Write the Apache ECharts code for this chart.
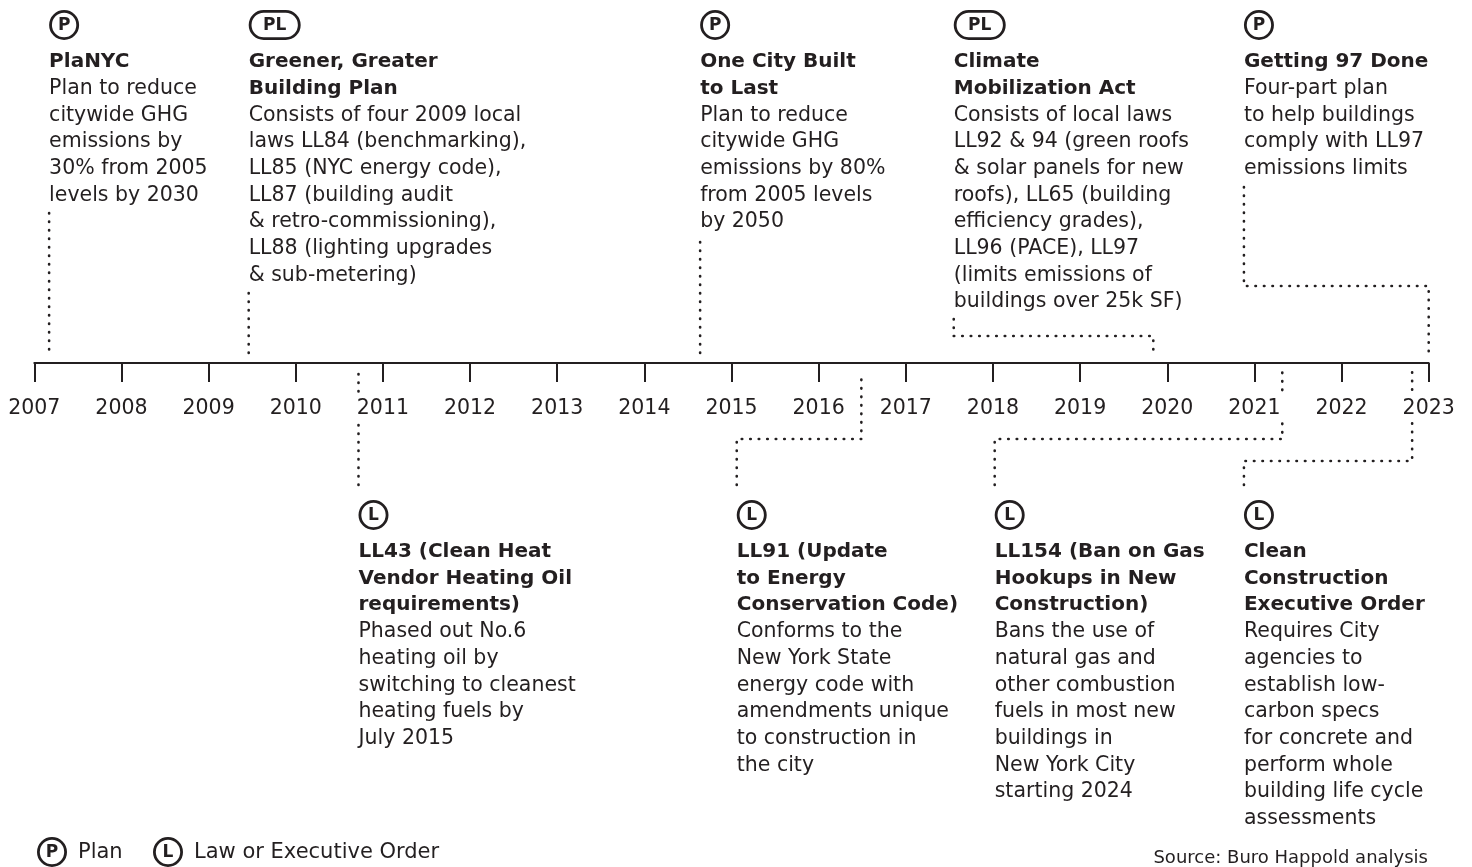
<!DOCTYPE html>
<html>
<head>
<meta charset="utf-8">
<script src="https://cdn.jsdelivr.net/npm/echarts@6/dist/echarts.min.js"></script>
<style>
html, body { margin: 0; background: #fff; }
#timeline { width: 1472px; height: 867px; }
</style>
</head>
<body>
<div id="timeline"></div>
<script>
// ---- data ----
const yearMin = 2007;
const yearMax = 2023;

const eventYears = [2007.17, 2009.46, 2014.64, 2019.84, 2023.0, 2010.72, 2016.49, 2021.32, 2022.81];
const eventTypes = ['P', 'PL', 'P', 'PL', 'P', 'L', 'L', 'L', 'L'];
const eventSides = ['above', 'above', 'above', 'above', 'above', 'below', 'below', 'below', 'below'];
const eventTitles = [
  ['PlaNYC'],
  ['Greener, Greater', 'Building Plan'],
  ['One City Built', 'to Last'],
  ['Climate', 'Mobilization Act'],
  ['Getting 97 Done'],
  ['LL43 (Clean Heat', 'Vendor Heating Oil', 'requirements)'],
  ['LL91 (Update', 'to Energy', 'Conservation Code)'],
  ['LL154 (Ban on Gas', 'Hookups in New', 'Construction)'],
  ['Clean', 'Construction', 'Executive Order']
];
const eventBodies = [
  ['Plan to reduce', 'citywide GHG', 'emissions by', '30% from 2005', 'levels by 2030'],
  ['Consists of four 2009 local', 'laws LL84 (benchmarking),', 'LL85 (NYC energy code),', 'LL87 (building audit',
   '& retro-commissioning),', 'LL88 (lighting upgrades', '& sub-metering)'],
  ['Plan to reduce', 'citywide GHG', 'emissions by 80%', 'from 2005 levels', 'by 2050'],
  ['Consists of local laws', 'LL92 & 94 (green roofs', '& solar panels for new', 'roofs), LL65 (building',
   'efficiency grades),', 'LL96 (PACE), LL97', '(limits emissions of', 'buildings over 25k SF)'],
  ['Four-part plan', 'to help buildings', 'comply with LL97', 'emissions limits'],
  ['Phased out No.6', 'heating oil by', 'switching to cleanest', 'heating fuels by', 'July 2015'],
  ['Conforms to the', 'New York State', 'energy code with', 'amendments unique', 'to construction in', 'the city'],
  ['Bans the use of', 'natural gas and', 'other combustion', 'fuels in most new', 'buildings in',
   'New York City', 'starting 2024'],
  ['Requires City', 'agencies to', 'establish low-', 'carbon specs', 'for concrete and', 'perform whole',
   'building life cycle', 'assessments']
];
const legendKeys = ['P', 'L'];
const legendNames = ['Plan', 'Law or Executive Order'];
const sourceNote = 'Source: Buro Happold analysis';

// ---- layout (where each text block sits and how its dotted leader is routed) ----
const labelYears = [2007.17, 2009.46, 2014.64, 2017.55, 2020.88, 2010.72, 2015.06, 2018.02, 2020.88];
// [end at text, elbow, end at axis], px offset from the timeline (negative = above)
const leaderRows = [
  [-150, null, -6], [-70, null, -6], [-121, null, -6], [-44, -27, -6], [-176, -77, -7],
  [122, null, 9], [122, 76, 9], [122, 76, 9], [122, 98, 9]
];

const ink = '#231f20';
const font = '"DejaVu Sans"';
const lineH = 26.67;
const badgeY = { above: -338, below: 152 };

var chartDom = document.getElementById('timeline');
var myChart = echarts.init(chartDom);

const leaders = eventYears.map(function (ev, i) {
  const r = leaderRows[i];
  const lab = labelYears[i];
  const coords = r[1] === null
    ? [[ev, r[0]], [ev, r[2]]]
    : [[lab, r[0]], [lab, r[1]], [ev, r[1]], [ev, r[2]]];
  return { coords: coords };
});

function badge(type, x, y) {
  const w = type.length > 1 ? 52 : 30;
  const shape = type.length > 1
    ? { type: 'rect', shape: { x: x + 1.4, y: y - 13.6, width: w - 2.8, height: 27.2, r: 13.6 } }
    : { type: 'circle', shape: { cx: x + w / 2, cy: y, r: 13.6 } };
  shape.style = { fill: 'none', stroke: ink, lineWidth: 2.8 };
  return [shape, {
    type: 'text',
    style: {
      x: x + w / 2, y: y + 1, text: type, fill: ink,
      font: 'bold 17px ' + font, align: 'center', verticalAlign: 'middle'
    }
  }];
}

function renderBlock(params, api) {
  const i = api.value(2);
  const pt = api.coord([api.value(0), api.value(1)]);
  const x = pt[0], y = pt[1];
  const top = y + 23.5;
  const children = badge(eventTypes[i], x, y).concat([
    {
      type: 'text',
      style: {
        x: x, y: top, text: eventTitles[i].join('\n'), fill: ink,
        font: 'bold 20px ' + font, lineHeight: lineH, verticalAlign: 'top'
      }
    },
    {
      type: 'text',
      style: {
        x: x, y: top + eventTitles[i].length * lineH, text: eventBodies[i].join('\n'), fill: ink,
        font: '20.5px ' + font, lineHeight: lineH, verticalAlign: 'top'
      }
    }
  ]);
  return { type: 'group', children: children };
}

const legendGraphics = [];
const legendX = [37, 153];
legendKeys.forEach(function (k, i) {
  const x = legendX[i], y = 852;
  legendGraphics.push({
    type: 'circle', shape: { cx: x + 15, cy: y, r: 13.6 },
    style: { fill: 'none', stroke: ink, lineWidth: 2.8 }
  });
  legendGraphics.push({
    type: 'text', x: x + 15, y: y + 1,
    style: { text: k, fill: ink, font: 'bold 17px ' + font, align: 'center', verticalAlign: 'middle' }
  });
  legendGraphics.push({
    type: 'text', x: x + 41, y: y + 1,
    style: { text: legendNames[i], fill: ink, font: '21px ' + font, verticalAlign: 'middle' }
  });
});
legendGraphics.push({
  type: 'text', x: 1428, y: 858,
  style: { text: sourceNote, fill: ink, font: '18px ' + font, align: 'right', verticalAlign: 'middle' }
});

var option = {
  animation: false,
  backgroundColor: '#fff',
  grid: { left: 34.3, right: 43.3, top: 0, height: 363, outerBoundsMode: 'none', containLabel: false },
  xAxis: {
    type: 'value',
    min: yearMin,
    max: yearMax,
    interval: 1,
    z: 10,
    axisLine: { onZero: false, lineStyle: { color: ink, width: 2 } },
    axisTick: { length: 19, lineStyle: { color: ink, width: 2 } },
    axisLabel: {
      margin: 32,
      color: ink,
      fontFamily: 'DejaVu Sans',
      fontSize: 20.5,
      backgroundColor: '#fff',
      padding: [3, 5],
      formatter: function (v) { return String(v); }
    },
    splitLine: { show: false }
  },
  yAxis: {
    type: 'value',
    min: -363,
    max: 0,
    inverse: true,
    show: false,
    splitLine: { show: false }
  },
  graphic: legendGraphics,
  series: [
    {
      name: 'leaders',
      type: 'lines',
      coordinateSystem: 'cartesian2d',
      polyline: true,
      silent: true,
      clip: false,
      z: 1,
      lineStyle: { color: ink, width: 2.6, type: [0.5, 8], cap: 'round', opacity: 1 },
      data: leaders
    },
    {
      name: 'events',
      type: 'custom',
      coordinateSystem: 'cartesian2d',
      clip: false,
      silent: true,
      renderItem: renderBlock,
      data: labelYears.map(function (x, i) { return [x, badgeY[eventSides[i]], i]; })
    }
  ]
};

option && myChart.setOption(option);
window.addEventListener('resize', function () { myChart.resize(); });
</script>
</body>
</html>
